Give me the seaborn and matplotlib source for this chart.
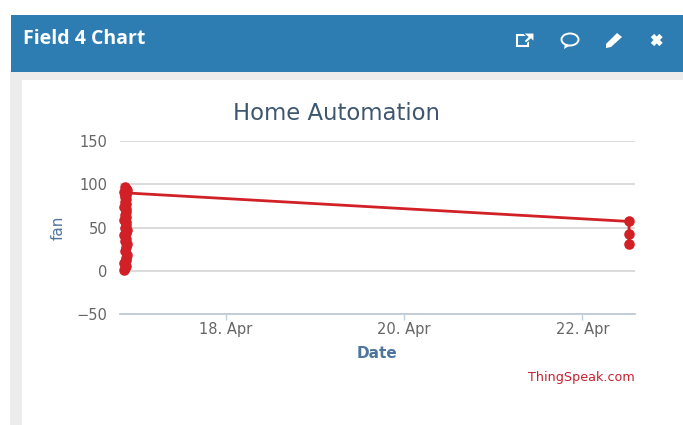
import matplotlib
matplotlib.use("Agg")
import matplotlib.pyplot as plt
import matplotlib.dates as mdates
from matplotlib.patches import Rectangle, Ellipse, Polygon
import pandas as pd
import seaborn as sns

# Data (hours after 16 Apr 00:00 and fan value), in time order
hours = [20.5, 20.8, 21.0, 20.6, 21.1, 20.9, 21.2, 20.7, 21.0, 21.3, 20.8, 21.1, 20.6,
         21.0, 21.2, 20.7, 21.1, 20.9, 20.6, 21.0, 20.8, 21.1, 20.9, 20.6, 21.0, 20.8, 21.1,
         20.7, 21.0, 20.8, 21.1, 20.6, 20.9, 21.2, 20.8, 21.0,
         156.6, 156.6, 156.6]
fan = [1, 3, 6, 9, 12, 15, 18, 23, 27, 31, 34, 37, 41, 44, 47, 50, 53, 56, 59, 62, 65, 68, 71,
       74, 77, 80, 83, 85, 87, 97, 94, 91, 95, 93, 88, 90,
       57, 42, 31]
tick_days = ["2024-04-18", "2024-04-20", "2024-04-22"]
tick_labels = ["18. Apr", "20. Apr", "22. Apr"]
y_ticks = [-50, 0, 50, 100, 150]

W, H = 683, 425
df = pd.DataFrame({
    "Date": pd.Timestamp("2024-04-16") + pd.to_timedelta(hours, unit="h"),
    "fan": fan,
})

sns.set_theme(style="white")
plt.rcParams["font.family"] = ["DejaVu Sans"]
fig = plt.figure(figsize=(W / 100, H / 100), dpi=100, facecolor="white")

# page chrome in pixel coordinates
bg = fig.add_axes([0, 0, 1, 1], zorder=0)
bg.set_xlim(0, W); bg.set_ylim(H, 0); bg.axis("off")
bg.add_patch(Rectangle((10, 70), W - 10, H - 70, fc="#ececec", ec="none"))
bg.add_patch(Rectangle((22, 80), W - 22, H - 80, fc="white", ec="none"))
bg.add_patch(Rectangle((11, 15), W - 11, 57, fc="#2d7cb2", ec="none"))
bg.text(23, 39, "Field 4 Chart", color="white", fontsize=14, fontweight="bold",
        family="Open Sans", va="center", ha="left")
# icons
bg.add_patch(Rectangle((517, 35), 11, 11, fc="none", ec="white", lw=1.5))
bg.add_patch(Polygon([(523, 33), (534, 33), (534, 42), (531, 39), (526, 43), (524, 41), (528, 37)],
                     fc="white", ec="#2d7cb2", lw=0.8))
bg.add_patch(Ellipse((570, 39.5), 17, 12, fc="none", ec="white", lw=1.4))
bg.add_patch(Polygon([(565, 44), (564, 49), (570, 45.5)], fc="white", ec="none"))
bg.add_patch(Polygon([(606, 44), (617, 33), (622, 37), (611, 47), (606, 48)], fc="white", ec="none"))
bg.plot([652.5, 661], [35.5, 44.5], color="white", lw=3.4, solid_capstyle="butt")
bg.plot([652.5, 661], [44.5, 35.5], color="white", lw=3.4, solid_capstyle="butt")

# chart
left, right, top, bottom = 120, 635, 141, 314
ax = fig.add_axes([left / W, 1 - bottom / H, (right - left) / W, (bottom - top) / H], zorder=1)
ax.patch.set_alpha(0)
sns.lineplot(data=df, x="Date", y="fan", ax=ax, color="#d22027", lw=2, marker="o", markersize=7.6,
             markeredgewidth=0, sort=False, estimator=None, errorbar=None, clip_on=False, zorder=3)
ax.set_ylim(-50, 150)
ax.set_xlim(pd.Timestamp("2024-04-16") + pd.Timedelta(hours=19.4),
            pd.Timestamp("2024-04-16") + pd.Timedelta(hours=158.2))
ax.set_yticks(y_ticks)
ax.set_yticklabels(["\u221250", "0", "50", "100", "150"])
ax.set_xticks([mdates.date2num(pd.Timestamp(d)) for d in tick_days])
ax.set_xticklabels(tick_labels)
ax.grid(axis="y", color="#d8d8d8", lw=1.3, zorder=0)
ax.grid(axis="x", visible=False)
for s in ["top", "left", "right"]:
    ax.spines[s].set_visible(False)
ax.spines["bottom"].set_visible(True)
ax.spines["bottom"].set_color("#c0cbd8")
ax.spines["bottom"].set_linewidth(1.3)
ax.tick_params(axis="y", left=False, labelsize=10.5, labelcolor="#666666", pad=3)
ax.tick_params(axis="x", bottom=True, length=4, width=1, color="#c0d0e0",
               labelsize=10.5, labelcolor="#666666", pad=2)
ax.set_xlabel("Date", fontsize=11, fontweight="bold", color="#4d759e", labelpad=6)
ax.set_ylabel("fan", fontsize=11, color="#4d759e", labelpad=8)
bg.text(336, 113, "Home Automation", fontsize=16.4, color="#3e576f", ha="center", va="center",
        family="DejaVu Sans")
bg.text(635, 377, "ThingSpeak.com", fontsize=9.2, color="#c8202f", ha="right", va="center")

fig.savefig("out.png", dpi=100)
